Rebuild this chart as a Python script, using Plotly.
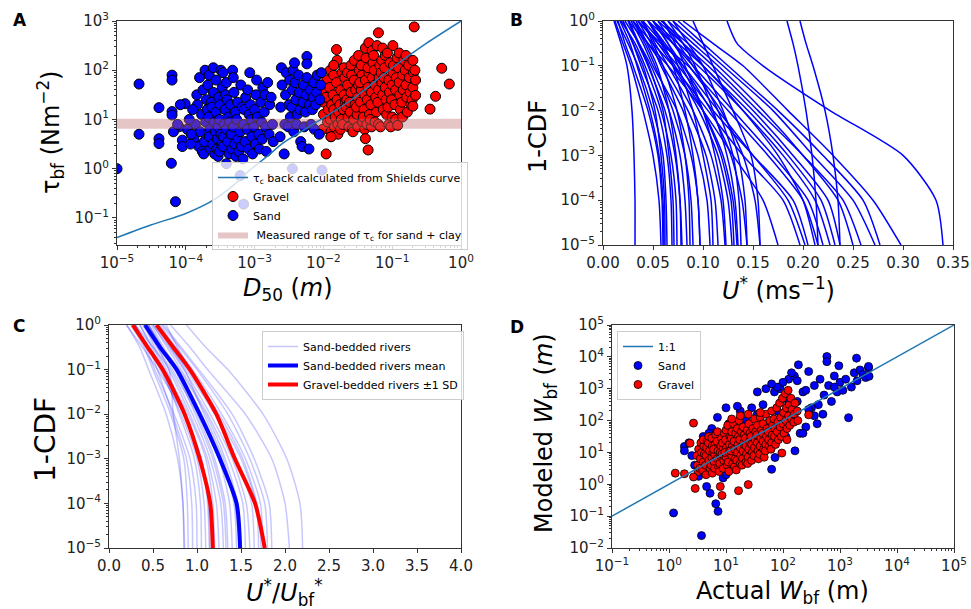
import plotly.graph_objects as go

W, H = 971, 609

# ---------------- Panel A data (log10 values) ----------------
shields_logD = [-5, -4.5, -4, -3.6, -3.3, -3.07, -2.8, -2.59, -2.34, -2.0, -1.6, -1.0, -0.5, 0]
shields_logtau = [-1.40, -1.14, -0.91, -0.64, -0.33, -0.03, 0.27, 0.52, 0.74, 1.03, 1.39, 2.05, 2.55, 3.0]
tau_c_range = [6.5, 10.3]

sand_A = [
    (-3.86,0.9),(-3.83,1.3),(-3.88,0.6),(-3.84,1.5),(-3.81,0.45),
    (-3.77,1.1),(-3.79,0.75),(-3.76,0.35),(-3.8,1.85),(-3.75,1.6),
    (-3.71,0.95),(-3.73,0.55),(-3.7,1.4),(-3.74,0.3),(-3.72,2.0),(-3.69,1.2),
    (-3.65,0.8),(-3.67,1.05),(-3.64,0.4),(-3.68,1.7),(-3.66,0.65),(-3.63,1.35),(-3.66,1.9),
    (-3.61,0.5),(-3.59,0.95),(-3.62,1.25),(-3.58,0.3),(-3.6,1.55),(-3.57,0.75),(-3.6,2.05),
    (-3.54,0.6),(-3.56,1.15),(-3.53,0.85),(-3.55,0.4),(-3.52,1.45),(-3.56,1.8),(-3.53,0.25),
    (-3.49,0.7),(-3.51,1.0),(-3.48,0.5),(-3.5,1.3),(-3.47,1.65),(-3.51,0.35),(-3.49,2.0),
    (-3.44,0.9),(-3.46,0.45),(-3.43,1.2),(-3.45,0.65),(-3.42,1.5),(-3.46,1.95),
    (-3.39,0.55),(-3.41,0.8),(-3.38,1.05),(-3.4,1.4),(-3.37,0.3),(-3.41,1.75),
    (-3.34,0.7),(-3.36,0.95),(-3.33,0.4),(-3.35,1.3),(-3.32,2.0),
    (-3.29,0.5),(-3.31,0.85),(-3.28,1.15),(-3.3,1.55),(-3.27,0.25),(-3.31,1.85),
    (-3.24,0.6),(-3.26,1.0),(-3.23,0.35),(-3.25,1.35),
    (-3.19,0.45),(-3.21,0.75),(-3.18,1.25),(-3.2,1.7),(-3.17,0.2),
    (-3.14,0.55),(-3.16,0.9),(-3.13,1.45),(-3.15,1.2),
    (-3.09,0.4),(-3.11,0.8),(-3.08,1.1),(-3.1,1.6),(-3.07,1.95),
    (-3.04,0.65),(-3.06,1.3),(-3.03,0.3),(-3.05,1.0),
    (-2.99,0.5),(-3.01,0.85),(-2.98,1.5),(-3.0,1.2),(-2.97,1.8),
    (-2.94,0.7),(-2.96,1.05),(-2.93,0.4),
    (-2.89,0.6),(-2.91,1.35),(-2.88,1.65),(-2.9,0.95),
    (-2.84,0.85),(-2.86,1.15),(-2.83,0.35),(-2.85,1.5),
    (-2.79,0.7),(-2.81,1.75),(-2.78,1.3),
    (-2.74,0.9),(-2.76,1.45),(-2.73,0.55),
    (-4.05,0.58),(-4.05,0.45),(-4.01,1.32),(-3.98,0.8),(-3.95,1.0),(-3.93,0.5),
    (-3.9,1.2),(-3.92,0.7),(-4.1,0.85),(-4.08,1.3),
    (-2.62,1.25),(-2.6,1.7),(-2.63,0.65),(-2.61,2.05),
    (-2.55,1.5),(-2.56,0.9),(-2.54,1.95),(-2.57,0.3),
    (-2.5,1.3),(-2.49,1.8),(-2.51,0.85),(-2.48,1.05),
    (-2.45,1.6),(-2.44,2.0),(-2.46,1.25),(-2.43,0.75),
    (-2.4,1.4),(-2.41,1.75),(-2.39,0.9),(-2.42,2.15),(-2.38,1.1),
    (-2.35,1.55),(-2.34,1.2),(-2.36,1.9),(-2.33,0.55),
    (-2.3,1.35),(-2.29,1.7),(-2.24,2.28),(-2.31,0.45),(-2.28,0.85),
    (-2.25,1.5),(-2.26,1.15),(-2.24,1.85),(-2.24,2.13),
    (-2.2,1.3),(-2.19,1.6),(-2.21,0.4),(-2.18,0.9),
    (-2.15,1.45),(-2.14,1.75),(-2.16,1.2),(-2.13,0.8),
    (-2.1,1.55),(-2.09,1.9),(-2.11,1.3),
    (-2.05,1.4),(-2.04,1.7),(-2.06,0.7),(-2.03,1.95),
    (-3.41,0.10),(-3.21,-0.14),(-3.16,-0.72),(-2.45,0.0),(-2.02,-0.03),
    (-5.0,0.0),(-4.68,1.72),(-4.68,0.70),(-4.39,1.24),(-4.39,0.61),(-4.39,0.51),
    (-4.2,1.9),(-4.2,1.8),(-4.2,1.16),(-4.2,1.09),(-4.21,0.11),(-4.15,-0.67),
    (-4.18,0.75),(-4.12,0.9),
]

gravel_A = [
    (-2.0,1.1),(-1.98,1.6),(-2.01,0.8),(-1.99,1.35),
    (-1.96,1.45),(-1.94,0.95),(-1.95,1.8),(-1.96,0.30),(-1.93,1.2),
    (-1.9,1.0),(-1.91,1.65),(-1.89,0.75),(-1.88,1.3),(-1.9,2.0),(-1.89,0.65),
    (-1.85,1.2),(-1.86,1.5),(-1.84,0.85),(-1.85,1.9),(-1.83,1.05),
    (-1.8,1.4),(-1.79,0.9),(-1.81,1.75),(-1.78,1.15),(-1.8,2.2),(-1.81,2.42),(-1.79,0.7),
    (-1.75,1.6),(-1.74,1.0),(-1.76,1.3),(-1.73,1.95),(-1.75,0.8),
    (-1.7,1.5),(-1.71,1.2),(-1.69,1.85),(-1.72,0.9),(-1.7,2.05),(-1.68,1.35),
    (-1.65,1.7),(-1.64,1.05),(-1.66,1.4),(-1.63,0.85),(-1.65,1.95),(-1.67,1.25),
    (-1.6,1.55),(-1.59,1.9),(-1.61,1.15),(-1.58,0.8),(-1.6,2.1),(-1.62,1.35),
    (-1.55,1.8),(-1.54,1.3),(-1.56,1.0),(-1.53,1.6),(-1.55,2.2),(-1.57,0.75),
    (-1.5,1.45),(-1.49,1.7),(-1.51,1.1),(-1.48,2.0),(-1.5,0.85),(-1.52,1.25),(-1.49,2.3),
    (-1.45,1.6),(-1.44,1.9),(-1.46,1.35),(-1.43,0.95),(-1.45,2.1),(-1.47,1.75),
    (-1.4,1.5),(-1.39,1.8),(-1.41,1.2),(-1.38,2.25),(-1.4,0.8),(-1.42,1.05),(-1.39,2.45),(-1.39,0.61),
    (-1.35,1.65),(-1.34,1.95),(-1.36,1.4),(-1.33,1.1),(-1.35,2.05),(-1.37,0.9),(-1.35,0.38),(-1.34,2.56),
    (-1.3,1.55),(-1.29,1.85),(-1.31,1.3),(-1.28,2.15),(-1.3,0.85),(-1.32,1.0),(-1.29,2.4),
    (-1.25,1.7),(-1.24,1.45),(-1.26,2.0),(-1.23,1.15),(-1.25,0.95),(-1.27,2.3),
    (-1.2,1.6),(-1.19,1.85),(-1.21,1.35),(-1.18,2.1),(-1.2,0.9),(-1.22,2.5),(-1.2,2.76),
    (-1.15,1.75),(-1.14,1.5),(-1.16,1.95),(-1.13,1.2),(-1.15,2.2),(-1.17,0.85),(-1.14,2.45),
    (-1.1,1.65),(-1.09,1.4),(-1.11,2.05),(-1.08,1.1),(-1.1,2.3),(-1.12,1.85),
    (-1.05,1.8),(-1.04,1.55),(-1.06,1.25),(-1.03,2.15),(-1.05,0.9),(-1.07,2.35),
    (-1.0,1.7),(-0.99,1.95),(-1.01,1.4),(-0.98,2.1),(-1.0,1.05),(-1.02,0.85),(-0.99,2.5),
    (-0.95,1.6),(-0.94,1.85),(-0.96,1.3),(-0.93,2.25),(-0.95,1.0),
    (-0.9,1.75),(-0.89,1.5),(-0.91,2.05),(-0.88,1.2),(-0.9,2.35),(-0.92,0.88),
    (-0.85,1.9),(-0.84,1.6),(-0.86,1.35),(-0.83,2.2),(-0.85,1.05),
    (-0.8,1.7),(-0.79,1.45),(-0.81,2.0),(-0.78,1.15),(-0.8,2.3),
    (-0.75,1.85),(-0.74,1.55),(-0.76,2.1),(-0.73,1.3),
    (-0.7,1.65),(-0.69,1.95),(-0.71,1.4),(-0.7,2.2),(-0.70,1.27),
    (-0.66,1.8),(-0.66,1.49),(-0.67,2.0),
    (-0.68,2.88),(-0.28,2.04),(-0.37,1.47),(-0.45,1.21),(-0.17,1.72),(-1.89,0.65),(-1.85,2.1),
]

# ---------------- Panel B data: U* at fixed exceedance levels ----------------
cdf_levels_log = [0, -0.5, -1, -2, -3, -4, -5]
b_curves = [
    [0.011,0.018,0.024,0.029,0.031,0.032,0.032],
    [0.017,0.027,0.034,0.047,0.056,0.060,0.061],
    [0.014,0.025,0.035,0.050,0.060,0.063,0.064],
    [0.020,0.030,0.038,0.055,0.064,0.068,0.069],
    [0.018,0.032,0.042,0.058,0.068,0.073,0.074],
    [0.025,0.035,0.045,0.062,0.072,0.077,0.079],
    [0.022,0.036,0.048,0.066,0.077,0.082,0.084],
    [0.030,0.042,0.052,0.070,0.082,0.088,0.090],
    [0.028,0.040,0.050,0.074,0.088,0.095,0.097],
    [0.035,0.048,0.058,0.080,0.095,0.104,0.107],
    [0.030,0.045,0.060,0.085,0.103,0.112,0.115],
    [0.040,0.052,0.065,0.090,0.108,0.118,0.122],
    [0.038,0.055,0.070,0.096,0.115,0.125,0.129],
    [0.045,0.058,0.072,0.100,0.120,0.130,0.134],
    [0.050,0.065,0.080,0.108,0.128,0.139,0.144],
    [0.055,0.070,0.086,0.118,0.140,0.152,0.157],
    [0.020,0.030,0.040,0.052,0.058,0.0615,0.062],
    [0.026,0.036,0.046,0.060,0.066,0.070,0.071],
    [0.033,0.044,0.054,0.066,0.073,0.077,0.078],
    [0.040,0.050,0.060,0.074,0.082,0.086,0.087],
    [0.045,0.060,0.070,0.082,0.090,0.095,0.097],
    [0.050,0.065,0.075,0.090,0.100,0.108,0.110],
    [0.060,0.072,0.082,0.100,0.112,0.120,0.123],
    [0.065,0.080,0.092,0.110,0.124,0.132,0.135],
    [0.030,0.050,0.070,0.105,0.140,0.180,0.197],
    [0.040,0.060,0.080,0.115,0.150,0.185,0.202],
    [0.035,0.058,0.085,0.125,0.165,0.200,0.215],
    [0.050,0.070,0.090,0.130,0.170,0.205,0.220],
    [0.045,0.070,0.095,0.140,0.180,0.212,0.227],
    [0.060,0.080,0.100,0.145,0.185,0.218,0.232],
    [0.055,0.080,0.105,0.150,0.190,0.225,0.237],
    [0.065,0.090,0.115,0.160,0.200,0.235,0.250],
    [0.070,0.095,0.120,0.170,0.210,0.250,0.272],
    [0.075,0.100,0.125,0.175,0.220,0.260,0.277],
    [0.080,0.110,0.140,0.185,0.230,0.270,0.298],
    [0.124,0.134,0.160,0.227,0.300,0.333,0.340],
    [0.184,0.190,0.195,0.203,0.209,0.213,0.215],
    [0.197,0.203,0.210,0.222,0.230,0.235,0.237],
    [0.090,0.100,0.110,0.130,0.148,0.155,0.157],
    [0.070,0.085,0.100,0.120,0.135,0.142,0.144],
    [0.015,0.022,0.030,0.045,0.055,0.059,0.060],
    [0.058,0.085,0.110,0.155,0.200,0.240,0.258],
    [0.025,0.045,0.065,0.100,0.130,0.160,0.175],
    [0.012,0.020,0.028,0.040,0.050,0.056,0.058],
    [0.045,0.062,0.078,0.100,0.118,0.128,0.131],
    [0.060,0.075,0.090,0.115,0.130,0.136,0.138],
    [0.035,0.055,0.075,0.110,0.150,0.190,0.205],
    [0.050,0.075,0.100,0.140,0.175,0.200,0.212],
]

# ---------------- Panel C data: normalised U* at the same levels ----------------
c_sand_curves = [
    [0.20,0.35,0.45,0.65,0.78,0.84,0.85],
    [0.25,0.40,0.50,0.70,0.85,0.89,0.90],
    [0.30,0.45,0.55,0.72,0.88,0.94,0.95],
    [0.30,0.42,0.52,0.74,0.92,0.99,1.00],
    [0.35,0.48,0.60,0.80,0.97,1.04,1.05],
    [0.28,0.45,0.58,0.82,1.00,1.08,1.10],
    [0.40,0.52,0.65,0.86,1.05,1.13,1.15],
    [0.35,0.50,0.63,0.90,1.10,1.18,1.20],
    [0.42,0.55,0.68,0.92,1.12,1.22,1.25],
    [0.38,0.55,0.70,0.95,1.15,1.27,1.30],
    [0.45,0.60,0.72,1.00,1.20,1.32,1.35],
    [0.40,0.58,0.75,1.02,1.25,1.37,1.40],
    [0.48,0.62,0.78,1.05,1.28,1.42,1.45],
    [0.45,0.60,0.80,1.10,1.32,1.46,1.50],
    [0.50,0.66,0.82,1.12,1.36,1.52,1.55],
    [0.50,0.68,0.85,1.15,1.40,1.56,1.60],
    [0.55,0.72,0.88,1.20,1.45,1.62,1.65],
    [0.52,0.70,0.90,1.22,1.50,1.67,1.70],
    [0.58,0.76,0.95,1.28,1.55,1.72,1.75],
    [0.60,0.80,1.00,1.35,1.60,1.77,1.80],
    [0.62,0.82,1.02,1.40,1.65,1.82,1.85],
    [0.70,0.92,1.12,1.55,1.85,2.00,2.05],
    [0.88,1.10,1.35,1.75,2.02,2.17,2.20],
    [0.30,0.50,0.68,0.73,0.80,0.84,0.86],
    [0.45,0.60,0.75,0.98,1.18,1.30,1.33],
    [0.55,0.70,0.86,1.08,1.30,1.43,1.48],
    [0.65,0.78,0.92,1.25,1.52,1.68,1.73],
    [0.20,0.38,0.55,0.85,1.05,1.12,1.14],
]
c_sand_mean = [0.41, 0.58, 0.77, 1.03, 1.26, 1.45, 1.49]
c_gravel_lo = [0.27, 0.44, 0.61, 0.86, 1.03, 1.15, 1.18]
c_gravel_hi = [0.54, 0.73, 0.92, 1.22, 1.43, 1.66, 1.77]

# ---------------- Panel D data (log10 actual, log10 modeled) ----------------
sand_D = [
    (0.08,-0.90),(0.57,-1.61),(0.86,-0.85),(0.82,-0.61),(0.72,-0.28),(0.66,-0.07),
    (0.27,1.19),(0.27,1.05),(0.52,0.25),(0.45,0.6),(0.35,1.3),(0.55,1.0),(0.6,1.5),
    (0.75,1.75),(0.8,1.6),(0.9,1.4),(0.95,0.2),(1.0,0.3),(1.05,1.9),(1.1,0.9),
    (1.2,1.6),(1.25,2.3),(1.3,1.3),(1.35,2.0),(1.4,0.8),(1.45,2.4),(1.5,1.7),
    (1.55,2.2),(1.6,1.1),(1.65,2.5),(1.7,1.9),(1.75,1.4),(1.8,0.47),(1.86,0.84),
    (1.85,2.9),(1.9,2.3),(1.95,3.0),(2.0,2.7),(2.05,1.5),(2.1,3.3),(2.15,2.1),
    (2.2,3.4),(2.21,1.05),(2.25,2.6),(2.27,3.75),(2.3,1.6),(2.35,2.9),(2.4,1.8),
    (2.45,3.54),(2.5,2.4),(2.55,3.1),(2.6,1.9),(2.62,2.5),(2.65,3.3),(2.7,2.2),
    (2.72,2.8),(2.77,4.01),(2.77,3.85),(2.8,3.1),(2.85,2.6),(2.9,3.4),(2.95,2.9),
    (2.98,3.72),(3.0,3.2),(3.05,2.95),(3.1,3.3),(3.15,2.09),(3.2,3.05),(3.25,3.5),
    (3.29,3.96),(3.3,3.25),(3.35,3.59),(3.4,3.45),(3.45,3.35),(3.5,3.65),(3.51,3.39),
    (3.5,3.7),(2.9,3.05),(2.4,2.95),(2.35,1.6),(2.55,2.15),(2.45,2.35),(2.0,3.2),
    (1.9,3.05),(2.15,3.5),(2.1,2.55),(1.55,2.9),(1.2,2.45),(1.0,2.4),(0.85,2.1),
    (0.7,1.6),(0.65,0.4),(0.4,0.9),(0.6,0.6),(1.7,3.0),(1.8,3.15),(2.25,3.25),
    (1.45,1.0),(0.95,0.7),
]

gravel_D = [
    (0.5,0.6),(0.52,1.1),(0.49,0.9),(0.51,0.4),
    (0.55,0.8),(0.56,1.3),(0.54,0.5),(0.57,1.0),
    (0.6,0.7),(0.61,1.2),(0.59,0.45),(0.62,0.95),(0.6,1.4),
    (0.65,0.9),(0.66,1.15),(0.64,0.6),(0.67,1.35),(0.65,0.3),
    (0.7,0.75),(0.71,1.05),(0.69,1.3),(0.72,0.5),(0.7,1.5),
    (0.75,0.85),(0.76,1.2),(0.74,0.6),(0.77,1.0),(0.75,1.45),(0.76,0.35),
    (0.8,0.95),(0.81,1.25),(0.79,0.7),(0.82,1.55),(0.8,0.5),(0.78,1.1),
    (0.85,0.8),(0.86,1.05),(0.84,1.35),(0.87,0.55),(0.85,1.65),
    (0.9,0.9),(0.91,1.2),(0.89,0.65),(0.92,1.45),(0.9,1.0),(0.88,0.4),
    (0.95,1.1),(0.96,0.75),(0.94,1.3),(0.97,1.6),(0.95,0.5),(0.93,0.95),
    (1.0,0.85),(1.01,1.15),(0.99,1.4),(1.02,0.6),(1.0,1.7),(0.98,1.0),
    (1.05,1.0),(1.06,1.25),(1.04,0.7),(1.07,1.5),(1.05,0.4),(1.03,1.85),
    (1.1,0.9),(1.11,1.2),(1.09,1.45),(1.12,0.65),(1.1,1.65),(1.08,1.05),
    (1.15,1.1),(1.16,0.8),(1.14,1.35),(1.17,1.6),(1.15,0.55),(1.13,1.9),
    (1.2,1.0),(1.21,1.25),(1.19,0.75),(1.22,1.5),(1.2,1.75),(1.18,0.45),
    (1.25,1.15),(1.26,0.9),(1.24,1.4),(1.27,1.65),(1.25,0.65),(1.23,2.0),
    (1.3,1.05),(1.31,1.3),(1.29,0.8),(1.32,1.55),(1.3,1.8),(1.28,0.6),
    (1.35,1.2),(1.36,0.95),(1.34,1.45),(1.37,1.7),(1.35,0.7),
    (1.4,1.1),(1.41,1.35),(1.39,0.85),(1.42,1.6),(1.4,1.9),(1.38,0.65),
    (1.45,1.25),(1.46,1.0),(1.44,1.5),(1.47,1.75),(1.45,0.75),
    (1.5,1.15),(1.51,1.4),(1.49,0.9),(1.52,1.65),(1.5,2.05),
    (1.55,1.3),(1.56,1.05),(1.54,1.55),(1.57,0.8),(1.55,1.85),
    (1.6,1.2),(1.61,1.45),(1.59,0.95),(1.62,1.7),(1.6,2.1),
    (1.65,1.35),(1.66,1.1),(1.64,1.6),(1.67,0.85),(1.65,1.9),
    (1.7,1.25),(1.71,1.5),(1.69,1.05),(1.72,1.75),(1.7,2.2),
    (1.75,1.4),(1.76,1.2),(1.74,1.65),(1.77,2.0),
    (1.8,1.3),(1.81,1.55),(1.79,1.1),(1.82,1.85),(1.8,2.3),
    (1.85,1.5),(1.86,1.75),(1.84,2.05),(1.87,1.25),
    (1.9,1.65),(1.91,1.95),(1.89,2.4),(1.92,1.4),
    (1.95,1.8),(1.96,2.1),(1.94,2.55),(1.97,1.5),
    (2.0,1.9),(2.01,2.25),(1.99,2.7),(2.02,1.6),
    (2.05,2.0),(2.06,2.4),(2.04,2.85),(2.07,1.75),
    (2.1,2.15),(2.11,2.5),(2.09,2.95),(2.12,1.85),
    (2.15,2.05),(2.16,2.35),(2.14,2.7),
    (2.2,2.2),(2.21,2.55),(2.19,1.95),
    (2.25,2.3),(2.26,2.0),
    (1.39,2.2),(1.6,2.25),(1.25,2.15),(1.1,2.05),
    (0.11,0.35),(0.27,0.33),(0.43,1.92),(0.46,-0.13),(0.43,0.23),(0.93,-0.35),
    (0.9,-0.07),(1.22,-0.2),(1.39,-0.01),(2.45,2.18),(2.07,1.40),(1.98,0.98),(0.37,1.29),
]
one_to_one_log = [-1, 5]

# tick exponents of the log axes
A_xexp = [-5, -4, -3, -2, -1, 0]
A_yexp = [-1, 0, 1, 2, 3]
BC_yexp = [-5, -4, -3, -2, -1, 0]
D_xexp = [-1, 0, 1, 2, 3, 4, 5]
D_yexp = [-2, -1, 0, 1, 2, 3, 4, 5]


def p10(v):
    return [10 ** a for a in v]


def sup10(e):
    return "10<sup>" + str(e).replace("-", "\u2212") + "</sup>"


def minor_vals(lo, hi):
    return [m * 10 ** e for e in range(lo - 1, hi + 1) for m in range(2, 10)]


fig = go.Figure()

# ---------------- Panel A ----------------
fig.add_trace(go.Scatter(
    x=p10([p[0] for p in gravel_A]), y=p10([p[1] for p in gravel_A]),
    mode="markers", name="Gravel", legend="legend", legendrank=2,
    marker=dict(color="#ff0000", size=10, line=dict(color="black", width=1)),
    xaxis="x", yaxis="y"))
fig.add_trace(go.Scatter(
    x=p10([p[0] for p in sand_A]), y=p10([p[1] for p in sand_A]),
    mode="markers", name="Sand", legend="legend", legendrank=3,
    marker=dict(color="#0000ff", size=10, line=dict(color="black", width=1)),
    xaxis="x", yaxis="y"))
fig.add_trace(go.Scatter(
    x=[10 ** A_xexp[0], 10 ** A_xexp[-1], 10 ** A_xexp[-1], 10 ** A_xexp[0]],
    y=[tau_c_range[0], tau_c_range[0], tau_c_range[1], tau_c_range[1]],
    mode="lines", fill="toself", fillcolor="rgba(190,110,110,0.4)",
    line=dict(width=0, color="rgba(190,110,110,0.4)"),
    name=" Measured range of \u03c4<sub>c</sub> for sand + clay",
    legend="legend", legendrank=4, xaxis="x", yaxis="y"))
fig.add_trace(go.Scatter(
    x=p10(shields_logD), y=p10(shields_logtau), mode="lines",
    line=dict(color="#1f77b4", width=1.5, shape="spline", smoothing=0.8),
    name="\u03c4<sub>c</sub> back calculated from Shields curve",
    legend="legend", legendrank=1, xaxis="x", yaxis="y"))

# ---------------- Panel B ----------------
for cx in b_curves:
    fig.add_trace(go.Scatter(
        x=cx, y=p10(cdf_levels_log), mode="lines", showlegend=False,
        line=dict(color="#0000ff", width=1.5, shape="spline", smoothing=0.7),
        xaxis="x2", yaxis="y2"))

# ---------------- Panel C ----------------
for i, cx in enumerate(c_sand_curves):
    fig.add_trace(go.Scatter(
        x=cx, y=p10(cdf_levels_log), mode="lines",
        name="Sand-bedded rivers", showlegend=(i == 0), legend="legend2",
        line=dict(color="rgba(0,0,255,0.22)", width=1.5, shape="spline", smoothing=0.7),
        xaxis="x3", yaxis="y3"))
fig.add_trace(go.Scatter(
    x=c_sand_mean, y=p10(cdf_levels_log), mode="lines",
    name="Sand-bedded rivers mean", legend="legend2",
    line=dict(color="#0000ff", width=4, shape="spline", smoothing=0.7),
    xaxis="x3", yaxis="y3"))
for i, cx in enumerate([c_gravel_lo, c_gravel_hi]):
    fig.add_trace(go.Scatter(
        x=cx, y=p10(cdf_levels_log), mode="lines",
        name="Gravel-bedded rivers \u00b11 SD", showlegend=(i == 0), legend="legend2",
        line=dict(color="#ff0000", width=4, shape="spline", smoothing=0.7),
        xaxis="x3", yaxis="y3"))

# ---------------- Panel D ----------------
fig.add_trace(go.Scatter(
    x=p10([p[0] for p in sand_D]), y=p10([p[1] for p in sand_D]),
    mode="markers", name="Sand", legend="legend3", legendrank=2,
    marker=dict(color="#0000ff", size=8, line=dict(color="black", width=0.8)),
    xaxis="x4", yaxis="y4"))
fig.add_trace(go.Scatter(
    x=p10([p[0] for p in gravel_D]), y=p10([p[1] for p in gravel_D]),
    mode="markers", name="Gravel", legend="legend3", legendrank=3,
    marker=dict(color="#ff0000", size=8, line=dict(color="black", width=0.8)),
    xaxis="x4", yaxis="y4"))
fig.add_trace(go.Scatter(
    x=p10(one_to_one_log), y=p10(one_to_one_log), mode="lines", name="1:1",
    legend="legend3", legendrank=1, line=dict(color="#1f77b4", width=1.5),
    xaxis="x4", yaxis="y4"))

# ---------------- axes ----------------
FRAME = "#333333"
TICKFONT = dict(size=15, color="#222222", family="DejaVu Sans")


def fx(px):
    return px / W


def fy(py):
    return 1 - py / H


def dom_x(a, b):
    return [fx(a), fx(b)]


def dom_y(top, bottom):
    return [fy(bottom), fy(top)]


def log_axis(exps, rng, domain, anchor):
    return dict(type="log", range=rng, domain=domain, anchor=anchor, automargin=False,
                showline=True, mirror=True, linecolor=FRAME, linewidth=1,
                ticks="outside", ticklen=4, tickcolor=FRAME, tickwidth=1,
                tickmode="array", tickvals=p10(exps), ticktext=[sup10(e) for e in exps],
                tickfont=TICKFONT, showgrid=False, zeroline=False,
                minor=dict(ticks="outside", ticklen=2, tickcolor=FRAME, tickwidth=0.8,
                           tickvals=minor_vals(exps[0], exps[-1]), showgrid=False))


def lin_axis(rng, dtick, fmt, domain, anchor):
    return dict(type="linear", range=rng, domain=domain, anchor=anchor, automargin=False,
                showline=True, mirror=True, linecolor=FRAME, linewidth=1,
                ticks="outside", ticklen=4, tickcolor=FRAME, tickwidth=1,
                tick0=0, dtick=dtick, tickformat=fmt,
                tickfont=TICKFONT, showgrid=False, zeroline=False)


LEG = dict(xanchor="left", yanchor="top", bgcolor="rgba(255,255,255,0.8)",
           bordercolor="#cccccc", borderwidth=1, font=dict(size=11),
           itemwidth=30, tracegroupgap=0)

fig.update_layout(
    width=W, height=H, autosize=False,
    margin=dict(l=0, r=0, t=0, b=0, autoexpand=False),
    paper_bgcolor="white", plot_bgcolor="white",
    font=dict(family="DejaVu Sans", color="black"),
    xaxis=log_axis(A_xexp, [-5, 0], dom_x(117, 461), "y"),
    yaxis=log_axis(A_yexp, [-1.55, 3], dom_y(21, 245), "x"),
    xaxis2=lin_axis([0, 0.35], 0.05, ".2f", dom_x(603, 953), "y2"),
    yaxis2=log_axis(BC_yexp, [-5, 0], dom_y(21, 245), "x2"),
    xaxis3=lin_axis([0, 4], 0.5, ".1f", dom_x(109, 461), "y3"),
    yaxis3=log_axis(BC_yexp, [-5, 0], dom_y(325, 548), "x3"),
    xaxis4=log_axis(D_xexp, [-1, 5], dom_x(612, 954), "y4"),
    yaxis4=log_axis(D_yexp, [-2, 5], dom_y(325, 548), "x4"),
    legend=dict(x=fx(212), y=fy(162), **LEG),
    legend2=dict(x=fx(262), y=fy(331), **LEG),
    legend3=dict(x=fx(617), y=fy(331), **LEG),
)


# ---------------- panel letters and axis titles ----------------
def ann(text, px, py, size, angle=0, bold=False):
    fig.add_annotation(
        text=("<b>" + text + "</b>") if bold else text,
        x=fx(px), y=fy(py), xref="paper", yref="paper",
        xanchor="center", yanchor="middle", showarrow=False, textangle=angle,
        font=dict(size=size, color="black", family="DejaVu Sans"))


ann("A", 20, 20, 17, bold=True)
ann("B", 516, 20, 17, bold=True)
ann("C", 19, 326, 17, bold=True)
ann("D", 517, 327, 17, bold=True)

ann("<i>D</i><sub>50</sub> (<i>m</i>)", 288, 289, 24)
ann("\u03c4<sub>bf</sub> (Nm<sup>\u22122</sup>)", 50, 133, 24, angle=-90)
ann("<i>U</i><sup>*</sup> (ms<sup>\u22121</sup>)", 778, 289, 24)
ann("1-CDF", 538, 137, 24, angle=-90)
ann("<i>U</i><sup>*</sup>/<i>U</i><sub>bf</sub><sup>*</sup>", 284, 592, 24)
ann("1-CDF", 45, 440, 28, angle=-90)
ann("Actual <i>W</i><sub>bf</sub> (m)", 782, 592, 24)
ann("Modeled <i>W</i><sub>bf</sub> (<i>m</i>)", 545, 433, 24, angle=-90)

# remove the browser's default 8 px page margin so the figure sits at the window corner
fig.write_html("out.html", config={"displayModeBar": False},
               post_script="document.body.style.margin='0';document.body.style.overflow='hidden';")
